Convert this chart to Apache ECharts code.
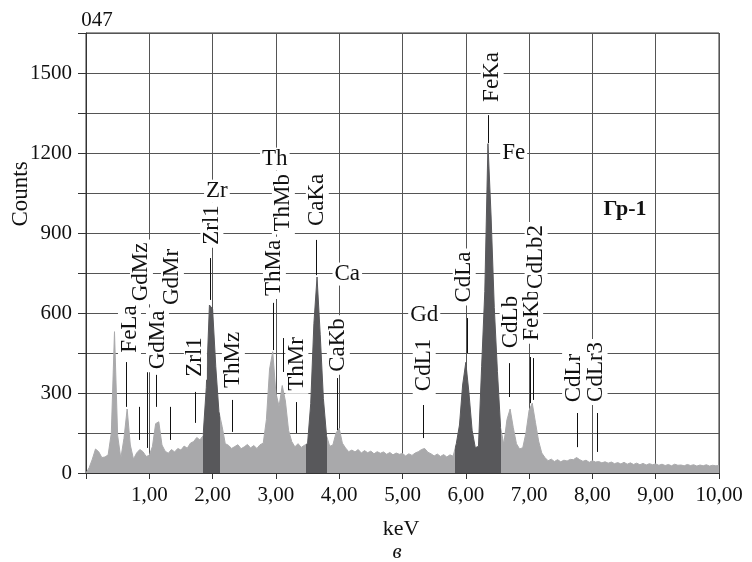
<!DOCTYPE html>
<html><head><meta charset="utf-8">
<script src="https://cdn.jsdelivr.net/npm/echarts@6/dist/echarts.min.js"></script>
<style>html,body{margin:0;padding:0;background:#fff}#c{width:752px;height:562px}</style>
</head><body><div id="c"></div>
<script>
// ---- data ----
const channelWidth = 0.05; // keV per channel
const counts = [
  0,20,52,90,80,58,60,68,150,530,140,55,130,240,105,52,75,88,80,62,
  66,100,185,192,105,82,74,88,79,92,86,101,93,112,118,133,124,140,320,630,
  615,400,230,175,110,104,92,99,106,91,98,107,94,103,92,106,112,200,390,455,
  300,250,328,270,160,118,98,110,96,104,110,260,560,735,520,280,140,100,105,150,
  168,112,94,80,86,79,88,75,84,76,82,72,80,74,79,70,77,68,75,70,
  73,64,72,66,75,80,88,92,78,72,64,71,62,69,60,68,63,110,180,330,
  415,300,160,95,100,400,680,1235,960,620,380,170,108,200,240,170,110,90,95,150,
  235,262,190,120,75,58,46,52,43,50,42,48,45,51,50,58,50,44,48,40,
  46,41,43,38,42,37,41,35,39,34,40,33,38,32,37,31,36,30,35,31,
  34,29,33,28,32,27,33,29,30,27,32,28,31,26,30,27,31,26,29,27,
  28
];
const darkRanges = [[1.85, 2.11], [3.48, 3.81], [5.83, 6.56]];
const xTickLabels = ['', '1,00', '2,00', '3,00', '4,00', '5,00', '6,00', '7,00', '8,00', '9,00', '10,00'];
const yTickLabels = ['0', '', '300', '', '600', '', '900', '', '1200', '', '1500', ''];
// marker lines: [keV, fromCounts, toCounts]
const markerLines = [
  [0.635, 248, 416], [0.845, 124, 248], [0.966, 94, 379], [1.113, 248, 368],
  [1.334, 124, 248], [1.728, 188, 304], [1.965, 649, 806], [2.308, 154, 274],
  [2.96, 461, 638], [3.113, 379, 506], [3.318, 150, 266], [3.638, 742, 874],
  [3.975, 161, 356], [5.323, 131, 255], [6.017, 450, 581], [6.358, 1237, 1342],
  [6.685, 285, 412], [7.017, 262, 435], [7.064, 274, 431], [7.763, 97, 225],
  [8.079, 79, 225]
];
// vertical line labels: [text, keV, counts]
const lineLabels = [
  ['FeLa', 0.687, 540], ['GdMz', 0.876, 754], ['GdMa', 1.129, 499], ['GdMr', 1.365, 735],
  ['Zrl1', 1.728, 435], ['ThMz', 2.328, 424], ['Zrl1', 1.989, 930], ['ThMa', 2.976, 769],
  ['ThMb', 3.118, 1013], ['ThMr', 3.331, 409], ['CaKa', 3.654, 1024], ['CaKb', 3.986, 480],
  ['CdL1', 5.343, 405], ['CdLa', 5.975, 735], ['FeKa', 6.416, 1485], ['CdLb', 6.716, 566],
  ['FeKb', 7.040, 592], ['CdLb2', 7.111, 810], ['CdLr', 7.703, 356], ['CdLr3', 8.058, 379]
];
// element labels: [text, keV, counts]
const elementLabels = [
  ['Zr', 2.068, 1057], ['Th', 2.983, 1177], ['Ca', 4.128, 746], ['Gd', 5.343, 592], ['Fe', 6.756, 1200]
];

// ---- chart ----
const LIGHT = '#a9a9ab', DARK = '#58585b', FONT = 'Liberation Serif', TXT = '#111';
const spectrum = counts.map((c, i) => [+(i * channelWidth).toFixed(2), c]);
const chart = echarts.init(document.getElementById('c'), null, {renderer: 'canvas'});
const labelBase = {
  show: true, position: 'inside', color: TXT, fontFamily: FONT, fontSize: 23, opacity: 1,
  backgroundColor: '#fff', padding: [0, 3], formatter: '{b}', textBorderWidth: 0
};
const txtStyle = (text, font) => ({text, font, fill: '#111', align: 'center', verticalAlign: 'middle', textAlign: 'center', textVerticalAlign: 'middle'});
chart.setOption({
  animation: false,
  grid: {left: 86, right: 33, top: 33, bottom: 89, show: true, borderColor: '#333', borderWidth: 1,
         outerBoundsMode: 'none', containLabel: false},
  visualMap: {
    show: false, type: 'piecewise', dimension: 0, seriesIndex: 0,
    pieces: darkRanges.map(r => ({gte: r[0], lt: r[1], color: DARK})),
    outOfRange: {color: LIGHT}
  },
  xAxis: {
    type: 'value', min: 0, max: 10, interval: 1,
    axisLine: {show: true, lineStyle: {color: '#333'}},
    axisTick: {show: true, length: 6, lineStyle: {color: '#333'}},
    splitLine: {show: true, lineStyle: {color: '#555', width: 1}},
    axisLabel: {formatter: v => xTickLabels[Math.round(v)], color: '#111', fontFamily: FONT, fontSize: 21, margin: 12}
  },
  yAxis: {
    type: 'value', min: 0, max: 1650, interval: 150,
    axisLine: {show: true, lineStyle: {color: '#333'}},
    axisTick: {show: true, length: 8, lineStyle: {color: '#333'}},
    splitLine: {show: true, lineStyle: {color: '#555', width: 1}},
    axisLabel: {formatter: v => yTickLabels[Math.round(v / 150)], color: '#111', fontFamily: FONT, fontSize: 21, margin: 14}
  },
  graphic: [
    {type: 'text', x: 97, y: 20, style: txtStyle('047', '21px "Liberation Serif"')},
    {type: 'text', x: 21, y: 194, rotation: Math.PI / 2, style: txtStyle('Counts', '23px "Liberation Serif"')},
    {type: 'text', x: 401, y: 529, style: txtStyle('keV', '22px "Liberation Serif"')},
    {type: 'text', x: 397, y: 552, style: txtStyle('в', 'italic 21px "Liberation Serif"')},
    {type: 'text', x: 625, y: 209, style: txtStyle('Гр-1', 'bold 22px "Liberation Serif"')}
  ],
  series: [
    {
      type: 'line', data: spectrum, symbol: 'none', showSymbol: false, z: 2,
      lineStyle: {width: 1}, areaStyle: {opacity: 1}, silent: true
    },
    {
      type: 'scatter', data: [], z: 4, silent: true,
      markLine: {
        silent: true, symbol: ['none', 'none'], animation: false,
        lineStyle: {color: '#111', width: 1, type: 'solid', opacity: 1},
        label: {show: false}, emphasis: {disabled: true},
        data: markerLines.map(m => [{coord: [m[0], m[1]]}, {coord: [m[0], m[2]]}])
      }
    },
    {
      type: 'scatter', z: 5, silent: true, symbolSize: 0,
      itemStyle: {color: 'rgba(0,0,0,0)', opacity: 1},
      label: Object.assign({}, labelBase, {rotate: 90}),
      data: lineLabels.map(l => ({name: l[0], value: [l[1], l[2]]}))
    },
    {
      type: 'scatter', z: 5, silent: true, symbolSize: 0,
      itemStyle: {color: 'rgba(0,0,0,0)', opacity: 1},
      label: Object.assign({}, labelBase, {padding: [0, 2]}),
      data: elementLabels.map(l => ({name: l[0], value: [l[1], l[2]]}))
    }
  ]
});
</script>
</body></html>
